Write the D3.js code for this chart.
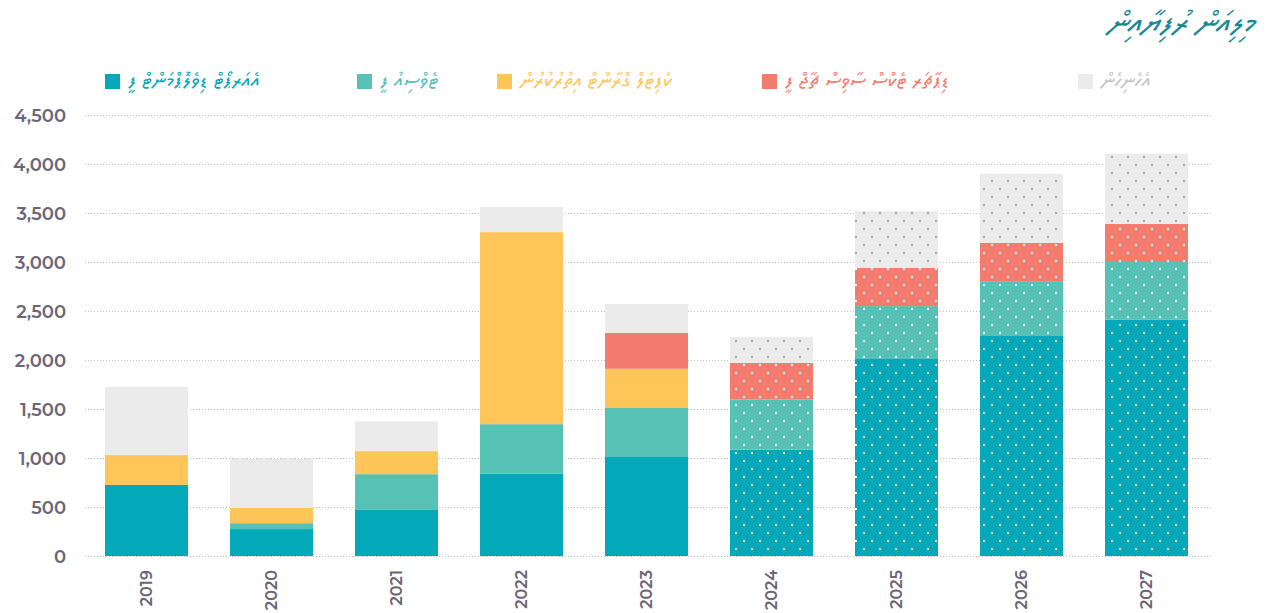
<!DOCTYPE html>
<html>
<head>
<meta charset="utf-8">
<script src="https://cdn.jsdelivr.net/npm/d3@7"></script>
<style>
	body { margin: 0; background: #fff; }
	.axisLabel { font-family: 'Montserrat', 'Open Sans', sans-serif; font-weight: 600; fill: #6b6677; }
	.thaana { font-family: 'Faruma', 'MV Faseyha', 'Noto Sans Thaana', 'DejaVu Sans', sans-serif; }
</style>
</head>
<body>
<svg id="chart" width="1266" height="613"></svg>
<script>
// values in million rufiyaa
var years = ['2019', '2020', '2021', '2022', '2023', '2024', '2025', '2026', '2027'];
var projected = ['2024', '2025', '2026', '2027'];
var adf = [725, 275, 470, 840, 1010, 1085, 2010, 2245, 2410];
var fee2 = [0, 60, 365, 505, 500, 510, 540, 560, 590];
var fee3 = [305, 155, 235, 1960, 400, 0, 0, 0, 0];
var fee4 = [0, 0, 0, 0, 365, 375, 390, 390, 390];
var others = [695, 500, 305, 255, 295, 265, 580, 705, 715];
var yTicks = [0, 500, 1000, 1500, 2000, 2500, 3000, 3500, 4000, 4500];

var seriesNames = [
	'އެއަރޕޯޓް ޑިވެލޮޕްމަންޓް ފީ',
	'ޓެވްސިއު ފީ',
	'ކެޕިޓަލް ގްރާންޓް އިތުރުކުރުން',
	'ޑިޕާޗަރ ޓެކްސް ސާވިސް ޗާޖް ފީ',
	'އެހެނިހެން'
];
var seriesColors = ['#03a9b9', '#56c1b5', '#fec659', '#f47c6f', '#ebebeb'];
var dotColors = ['#ffffff', '#ffffff', '#ffffff', '#ffffff', '#a6a6a6'];
var legendX = [105, 357, 497, 762, 1078];
var seriesValues = [adf, fee2, fee3, fee4, others];

var svg = d3.select('#chart');

var x = d3.scaleBand()
	.domain(years)
	.range([84, 1209])
	.paddingInner(0.336)
	.paddingOuter(0.168);

var y = d3.scaleLinear()
	.domain([0, 4500])
	.range([556, 115]);

var rows = years.map(function(yr, i){
	var r = {year: yr};
	seriesValues.forEach(function(s, k){ r['s' + k] = s[i]; });
	return r;
});
var stack = d3.stack().keys(seriesValues.map(function(s, k){ return 's' + k; }));
var layers = stack(rows);

addPatterns = function(){
	var defs = svg.append('defs');
	seriesColors.forEach(function(c, k){
		var p = defs.append('pattern')
			.attr('id', 'dots' + k)
			.attr('patternUnits', 'userSpaceOnUse')
			.attr('width', 16)
			.attr('height', 16)
			.attr('x', 111)
			.attr('y', 4);
		p.append('rect')
			.attr('width', 16)
			.attr('height', 16)
			.attr('fill', c);
		p.append('rect')
			.attr('x', 0).attr('y', 0)
			.attr('width', 2).attr('height', 2)
			.attr('fill', dotColors[k]);
		p.append('rect')
			.attr('x', 8).attr('y', 8)
			.attr('width', 2).attr('height', 2)
			.attr('fill', dotColors[k]);
	});
};

addGrid = function(){
	svg.append('g')
		.attr('id', 'theGridG')
		.selectAll('line')
		.data(yTicks)
		.enter()
		.append('line')
		.attr('x1', 85)
		.attr('x2', 1212)
		.attr('y1', function(d){ return Math.round(y(d)) + 0.5; })
		.attr('y2', function(d){ return Math.round(y(d)) + 0.5; })
		.attr('stroke', '#bdbdbd')
		.attr('stroke-width', 1)
		.attr('stroke-dasharray', '1,2');
};

addAxes = function(){
	var yAxis = svg.append('g')
		.attr('id', 'yAxisG')
		.attr('transform', 'translate(66,0)')
		.call(d3.axisLeft(y).tickValues(yTicks).tickFormat(d3.format(',')).tickSize(0).tickPadding(0));
	yAxis.select('.domain').remove();
	yAxis.selectAll('text')
		.attr('class', 'axisLabel')
		.attr('font-size', 18)
		.attr('dy', '0.35em');

	var xAxis = svg.append('g')
		.attr('id', 'xAxisG')
		.attr('transform', 'translate(0,556)')
		.call(d3.axisBottom(x).tickSize(0).tickPadding(0));
	xAxis.select('.domain').remove();
	xAxis.selectAll('text')
		.attr('class', 'axisLabel')
		.attr('font-size', 16)
		.attr('text-anchor', 'end')
		.attr('transform', 'rotate(-90)')
		.attr('x', -14)
		.attr('y', 0)
		.attr('dy', '0.35em');
};

addBars = function(){
	svg.append('g')
		.attr('id', 'theBarsG')
		.selectAll('g')
		.data(layers)
		.enter()
		.append('g')
		.each(function(layer, k){
			d3.select(this).selectAll('rect')
				.data(layer.filter(function(d){ return d[1] > d[0]; }))
				.enter()
				.append('rect')
				.attr('x', function(d){ return x(d.data.year); })
				.attr('width', x.bandwidth())
				.attr('y', function(d){ return y(d[1]); })
				.attr('height', function(d){ return y(d[0]) - y(d[1]); })
				.attr('fill', function(d){
					return projected.indexOf(d.data.year) >= 0 ? 'url(#dots' + k + ')' : seriesColors[k];
				});
		});
};

addLegend = function(){
	var g = svg.append('g')
		.attr('id', 'theLegendG');
	seriesNames.forEach(function(name, k){
		g.append('rect')
			.attr('x', legendX[k])
			.attr('y', 74)
			.attr('width', 15)
			.attr('height', 15)
			.attr('fill', seriesColors[k]);
		g.append('text')
			.attr('class', 'thaana')
			.attr('x', legendX[k] + 23)
			.attr('y', 87)
			.attr('font-size', 21)
			.attr('direction', 'rtl')
			.attr('text-anchor', 'end')
			.attr('fill', k == 4 ? '#c4c4c4' : seriesColors[k])
			.text(name);
	});
};

addTitle = function(){
	svg.append('text')
		.attr('class', 'thaana')
		.attr('x', 1254)
		.attr('y', 33)
		.attr('font-size', 32)
		.attr('font-style', 'italic')
		.attr('direction', 'rtl')
		.attr('text-anchor', 'start')
		.attr('fill', '#1b8a90')
		.text('މިލިއަން ރުފިޔާއިން');
};

addPatterns();
addGrid();
addBars();
addAxes();
addLegend();
addTitle();
</script>
</body>
</html>
